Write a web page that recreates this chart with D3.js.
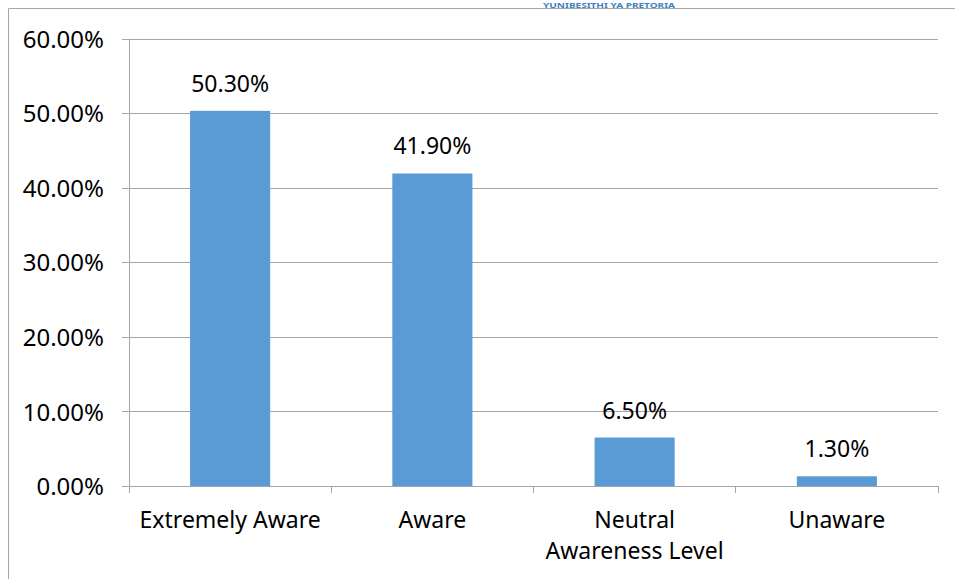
<!DOCTYPE html>
<html>
<head>
<meta charset="utf-8">
<script src="https://cdn.jsdelivr.net/npm/d3@7"></script>
<style>
  html, body { margin: 0; padding: 0; background: #fff; }
  svg { display: block; }
  text { font-family: "Noto Sans", "Open Sans", sans-serif; fill: #000; }
</style>
</head>
<body>
<svg id="chart" width="955" height="579"></svg>
<script>
// Awareness levels and their share of respondents
const categories = ["Extremely Aware", "Aware", "Neutral Awareness Level", "Unaware"];
const categoryLines = [["Extremely Aware"], ["Aware"], ["Neutral", "Awareness Level"], ["Unaware"]];
const shares = [0.503, 0.419, 0.065, 0.013];
const yTicks = [0, 0.1, 0.2, 0.3, 0.4, 0.5, 0.6];
const headerText = "YUNIBESITHI YA PRETORIA";

const svg = d3.select("#chart");
const W = 955, H = 579;
const plot = { left: 129, right: 938, top: 38.5, bottom: 486 };
const gridColor = "#a6a6a6";
const barColor = "#5b9bd5";
const fmt = d3.format(".2%");

// frame lines along the top and left edge of the page
svg.append("line").attr("x1", 8.5).attr("x2", W).attr("y1", 8.5).attr("y2", 8.5)
  .attr("stroke", gridColor).attr("stroke-width", 1);
svg.append("line").attr("x1", 8.5).attr("x2", 8.5).attr("y1", 8.5).attr("y2", H)
  .attr("stroke", gridColor).attr("stroke-width", 1);

// running header text at the page top
svg.append("text")
  .attr("x", 543).attr("y", 7.6)
  .attr("textLength", 132).attr("lengthAdjust", "spacingAndGlyphs")
  .style("font-size", "7px").style("font-weight", "bold")
  .style("fill", "#3d7fc1")
  .text(headerText);

const x = d3.scaleBand().domain(categories).range([plot.left, plot.right]).padding(0);
const y = d3.scaleLinear().domain([0, 0.6]).range([plot.bottom, plot.top]);

// horizontal gridlines with outward tick stubs
const yAxis = d3.axisLeft(y).tickValues(yTicks).tickFormat(fmt)
  .tickSize(-(plot.right - plot.left)).tickPadding(25);
const gy = svg.append("g").attr("transform", `translate(${plot.left},0)`).call(yAxis);
gy.select(".domain").remove();
gy.selectAll(".tick line")
  .attr("x1", -7).attr("stroke", gridColor).attr("shape-rendering", "crispEdges");
gy.selectAll(".tick text")
  .style("font-size", "24px").attr("dy", "0.36em").style("fill", "#000");

// vertical axis line
svg.append("line")
  .attr("x1", plot.left).attr("x2", plot.left).attr("y1", plot.top).attr("y2", plot.bottom)
  .attr("stroke", gridColor).attr("shape-rendering", "crispEdges");

// bars
const barW = x.bandwidth() * 0.396;
svg.append("g").selectAll("rect").data(shares).join("rect")
  .attr("x", (d, i) => x(categories[i]) + (x.bandwidth() - barW) / 2)
  .attr("y", d => y(d))
  .attr("width", barW)
  .attr("height", d => y(0) - y(d))
  .attr("fill", barColor);

// category axis with boundary ticks
const boundaries = categories.map(c => x(c)).concat([plot.right]);
svg.append("line")
  .attr("x1", plot.left).attr("x2", plot.right).attr("y1", plot.bottom).attr("y2", plot.bottom)
  .attr("stroke", gridColor).attr("shape-rendering", "crispEdges");
svg.append("g").selectAll("line").data(boundaries).join("line")
  .attr("x1", d => d).attr("x2", d => d)
  .attr("y1", plot.bottom).attr("y2", plot.bottom + 7)
  .attr("stroke", gridColor).attr("shape-rendering", "crispEdges");

// category labels
const cl = svg.append("g").selectAll("text").data(categoryLines).join("text")
  .attr("text-anchor", "middle")
  .style("font-size", "23px")
  .attr("x", (d, i) => x(categories[i]) + x.bandwidth() / 2)
  .attr("y", plot.bottom + 42);
cl.selectAll("tspan").data(d => d).join("tspan")
  .attr("x", function () { return this.parentNode.getAttribute("x"); })
  .attr("dy", (d, i) => i === 0 ? 0 : 31)
  .text(d => d);

// value labels above bars
svg.append("g").selectAll("text").data(shares).join("text")
  .attr("text-anchor", "middle")
  .style("font-size", "23px")
  .attr("x", (d, i) => x(categories[i]) + x.bandwidth() / 2)
  .attr("y", d => y(d) - 19)
  .text(d => fmt(d));
</script>
</body>
</html>
